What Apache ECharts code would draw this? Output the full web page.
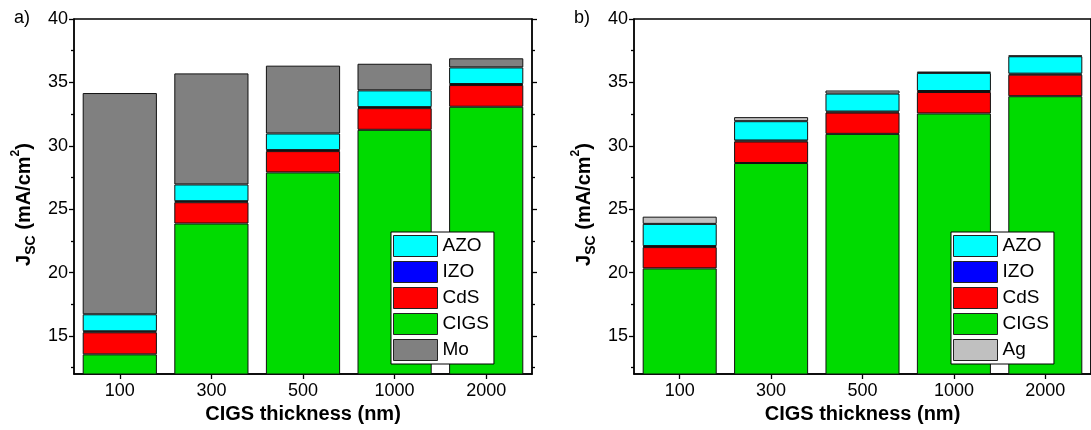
<!DOCTYPE html>
<html>
<head>
<meta charset="utf-8">
<script src="https://cdn.jsdelivr.net/npm/echarts@6/dist/echarts.min.js"></script>
<style>html,body{margin:0;padding:0;background:#fff;}#c{width:1091px;height:430px;}</style>
</head>
<body>
<div id="c"></div>
<script>
// ---- data ----
const categories = ['100', '300', '500', '1000', '2000'];
const yMajorTicks = [15, 20, 25, 30, 35, 40];
const yMinorTicks = [12.5, 17.5, 22.5, 27.5, 32.5, 37.5];

// panel a (layer thicknesses, stacked)
const aCIGS = [13.55, 23.87, 27.90, 31.26, 33.08];
const aCdS  = [1.74, 1.68, 1.68, 1.71, 1.71];
const aIZO  = [0.08, 0.08, 0.08, 0.08, 0.08];
const aAZO  = [1.34, 1.32, 1.31, 1.32, 1.31];
const aMo   = [17.45, 8.76, 5.35, 2.10, 0.72];

// panel b
const bCIGS = [20.33, 28.64, 30.94, 32.55, 33.91];
const bCdS  = [1.68, 1.70, 1.68, 1.69, 1.70];
const bIZO  = [0.08, 0.08, 0.08, 0.08, 0.08];
const bAZO  = [1.75, 1.52, 1.42, 1.43, 1.37];
const bAg   = [0.57, 0.32, 0.24, 0.10, 0.06];

// ---- style ----
const FONT = '"Liberation Sans", Arial, sans-serif';
const COL = { AZO: '#00FFFF', IZO: '#0000FF', CdS: '#FF0000', CIGS: '#00DB00', Mo: '#808080', Ag: '#C0C0C0' };
const gridPos = [
  { left: 74, top: 19, width: 458, height: 355 },
  { left: 634, top: 19, width: 458, height: 355 }
];

const grids = [];
gridPos.forEach(g => grids.push(Object.assign({ show: true, borderColor: '#000', borderWidth: 1.3, backgroundColor: 'transparent' }, g)));
gridPos.forEach(g => grids.push(Object.assign({ show: false }, g)));

const xAxes = [];
const yAxes = [];
const yName = '{j|J}{s|SC}{j| (mA/cm}{p|2}{j|)}';
const yNameStyle = {
  fontFamily: FONT, color: '#000', padding: [0, 16, 0, 0],
  rich: {
    j: { fontSize: 20, fontWeight: 'bold', fontFamily: FONT, color: '#000', lineHeight: 24, verticalAlign: 'bottom' },
    s: { fontSize: 14, fontWeight: 'bold', fontFamily: FONT, color: '#000', lineHeight: 24, verticalAlign: 'bottom', padding: [0, 0, -4, 0] },
    p: { fontSize: 12, fontWeight: 'bold', fontFamily: FONT, color: '#000', lineHeight: 24, verticalAlign: 'top' }
  }
};
for (let i = 0; i < 2; i++) {
  xAxes.push({
    gridIndex: i, type: 'category', data: categories,
    axisLine: { show: true, onZero: false, lineStyle: { color: '#000', width: 1.5 } },
    axisTick: { show: true, alignWithLabel: true, length: 5, lineStyle: { color: '#000', width: 1.3 } },
    axisLabel: { fontSize: 18, color: '#000', fontFamily: FONT, margin: 8 },
    splitLine: { show: false },
    name: 'CIGS thickness (nm)', nameLocation: 'middle', nameGap: 30,
    nameTextStyle: { fontSize: 20, fontWeight: 'bold', color: '#000', fontFamily: FONT }
  });
  yAxes.push({
    gridIndex: i, type: 'value', min: 12, max: 40, position: 'left',
    axisLine: { show: true, lineStyle: { color: '#000', width: 1.5 } },
    axisTick: { show: true, length: 5, customValues: yMajorTicks, lineStyle: { color: '#000', width: 1.3 } },
    axisLabel: { customValues: yMajorTicks, fontSize: 18, color: '#000', fontFamily: FONT, margin: 6 },
    splitLine: { show: false },
    name: yName, nameLocation: 'middle', nameGap: 40, nameTextStyle: yNameStyle
  });
  yAxes.push({
    gridIndex: i, type: 'value', min: 12, max: 40, position: 'right',
    axisLine: { show: true, lineStyle: { color: '#000', width: 1.5 } },
    axisTick: { show: true, length: 5, customValues: yMajorTicks, lineStyle: { color: '#000', width: 1.3 } },
    axisLabel: { show: false },
    splitLine: { show: false }
  });
}
for (let i = 2; i < 4; i++) {
  xAxes.push({ gridIndex: i, type: 'category', data: categories, show: false });
  ['left', 'right'].forEach(pos => yAxes.push({
    gridIndex: i, type: 'value', min: 12, max: 40, position: pos,
    axisLine: { show: false },
    axisTick: { show: true, length: 3, customValues: yMinorTicks, lineStyle: { color: '#000', width: 1.3 } },
    axisLabel: { show: false },
    splitLine: { show: false }
  }));
}

function bar(name, data, xi, yi, stack) {
  return {
    type: 'bar', name: name, data: data, stack: stack,
    xAxisIndex: xi, yAxisIndex: yi, barWidth: '81%',
    itemStyle: { color: COL[name], borderColor: '#111', borderWidth: 1 },
    emphasis: { disabled: true }
  };
}
const series = [
  bar('CIGS', aCIGS, 0, 0, 'a'), bar('CdS', aCdS, 0, 0, 'a'), bar('IZO', aIZO, 0, 0, 'a'),
  bar('AZO', aAZO, 0, 0, 'a'), bar('Mo', aMo, 0, 0, 'a'),
  bar('CIGS', bCIGS, 1, 2, 'b'), bar('CdS', bCdS, 1, 2, 'b'), bar('IZO', bIZO, 1, 2, 'b'),
  bar('AZO', bAZO, 1, 2, 'b'), bar('Ag', bAg, 1, 2, 'b')
];

function legend(left, names) {
  return {
    data: names, left: left, top: 232, orient: 'vertical', icon: 'rect',
    itemWidth: 44, itemHeight: 21, itemGap: 4, padding: [3, 5, 3, 2],
    borderColor: '#000', borderWidth: 1, backgroundColor: '#fff',
    itemStyle: { borderColor: '#222', borderWidth: 1 },
    textStyle: { fontSize: 19, color: '#000', fontFamily: FONT },
    selectedMode: false
  };
}

const chart = echarts.init(document.getElementById('c'), null, { renderer: 'canvas' });
chart.setOption({
  animation: false,
  backgroundColor: '#fff',
  grid: grids,
  xAxis: xAxes,
  yAxis: yAxes,
  legend: [legend(391, ['AZO', 'IZO', 'CdS', 'CIGS', 'Mo']), legend(951, ['AZO', 'IZO', 'CdS', 'CIGS', 'Ag'])],
  graphic: [
    { type: 'text', left: 14, top: 9, style: { text: 'a)', fontSize: 18, fill: '#000', fontFamily: FONT } },
    { type: 'text', left: 574, top: 9, style: { text: 'b)', fontSize: 18, fill: '#000', fontFamily: FONT } }
  ],
  series: series
});
</script>
</body>
</html>
